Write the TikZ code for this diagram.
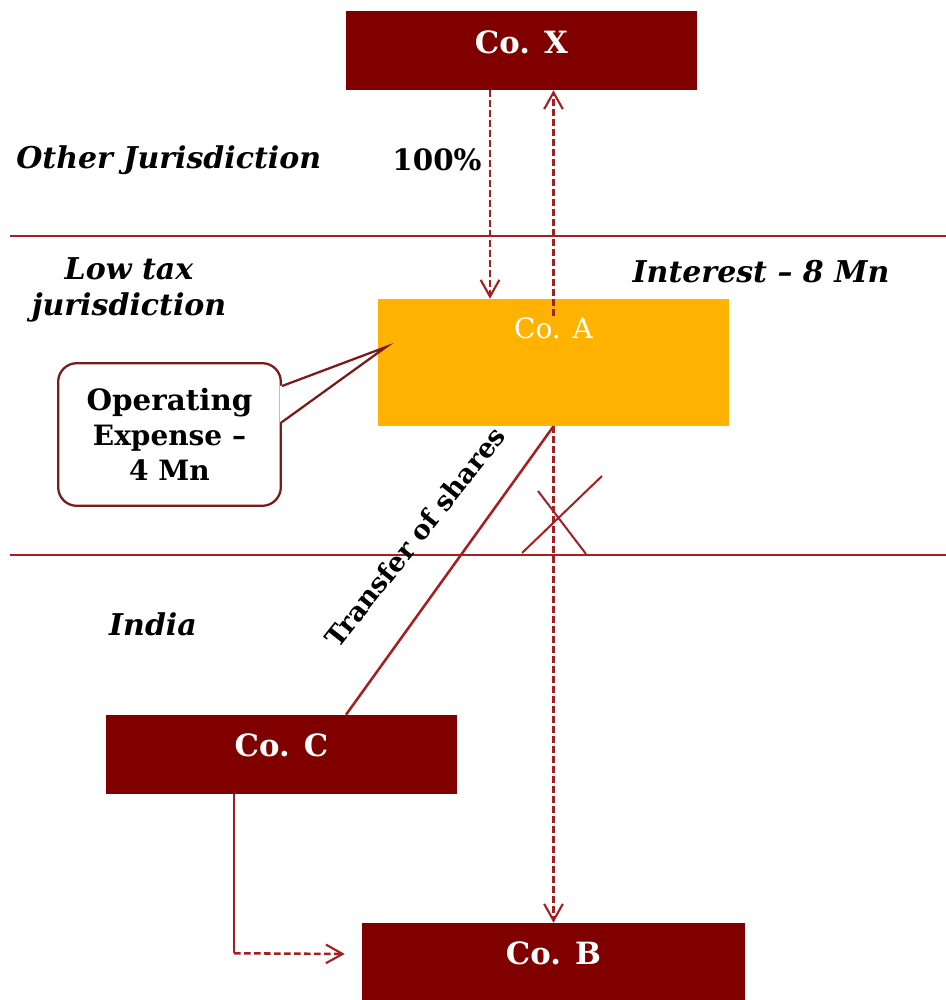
\documentclass[tikz,border=0pt]{standalone}
\usepackage{fontspec}
\setmainfont{DejaVu Serif}
\usepackage{tikz}
\usetikzlibrary{arrows.meta, positioning, calc}
\definecolor{coRed}{HTML}{800000}
\definecolor{coAmber}{HTML}{FFB300}
\definecolor{lineRed}{HTML}{A31F22}
\definecolor{calloutRed}{HTML}{7A1B1B}
\tikzset{
  company/.style={fill=coRed, text=white, font=\bfseries\fontsize{23}{27}\selectfont, minimum width=263.25pt, minimum height=59.25pt, inner sep=0pt},
  region/.style={font=\bfseries\itshape\fontsize{22.5}{27}\selectfont, align=center, inner sep=0pt},
  border/.style={lineRed, line width=2.1pt},
  link/.style={lineRed, line width=1.9pt},
  flow/.style={link, dash pattern=on 5pt off 2.5pt, -{Straight Barb[length=12.5pt, width=14pt, line width=1.6pt]}}
}
\begin{document}
\begin{tikzpicture}[x=0.75pt, y=-0.75pt]
        % Page frame
        \useasboundingbox[fill=white] (0,0) rectangle (946,1000);

        % Jurisdiction borders
        \draw[border] (10,236) -- (946,236);
        \draw[border] (10,555) -- (946,555);

        % Companies
        \node[company] (cox) at (521.5,50.5) {\raisebox{12.8pt}{Co. X}};
        \node[company, fill=coAmber, font=\fontsize{21}{25}\selectfont, minimum height=95.25pt] (coa) at (553.5,362.5) {\raisebox{51.8pt}{Co. A}};
        \node[company] (coc) at (281.5,754.5) {\raisebox{14.3pt}{Co. C}};
        \node[company, minimum width=287.25pt] (cob) at (553.5,962.5) {\raisebox{14.3pt}{Co. B}};

        % Region labels
        \node[region, anchor=west] (other) at (16,160) {Other Jurisdiction};
        \node[region] (lowtax) at (129,290) {Low tax\\jurisdiction};
        \node[region] (india) at (153,624) {India};
        \node[region] (interest) at (761,272) {Interest -- 8 Mn};
        \node[region, font=\bfseries\fontsize{22}{26}\selectfont] (own) at (437,160) {100\%};

        % Callout
        \node[draw=calloutRed, line width=1.7pt, rounded corners=14pt, fill=white, minimum width=167pt, minimum height=107pt, align=center, font=\bfseries\fontsize{21}{26}\selectfont] (opex) at (169.5,434.5) {{\fontsize{22}{26}\selectfont Operating}\\Expense --\\4 Mn};
        \coordinate (tipA) at (386,347);
        \fill[white] ($(opex.north east)+(-2,24)$) -- (tipA) -- ($(opex.north east)+(-2,60)$) -- cycle;
        \draw[calloutRed, line width=1.7pt] ($(opex.north east)+(0,24)$) -- (tipA) -- ($(opex.north east)+(0,60)$);

        % Flows
        \draw[flow] ($(cox.south)+(-31.5,0)$) -- ($(coa.north)+(-63.5,0)$);
        \draw[flow] ($(coa.north)+(0,17)$) -- ($(cox.south)+(32,0)$);
        \draw[flow] (coa.south) -- (cob.north);
        \draw[link] (coa.south) -- ($(coc.north)+(64.5,0)$);
        \node[rotate=51.5, font=\bfseries\fontsize{20}{24}\selectfont] (transfer) at (415,537) {Transfer of shares};
        \draw[link] ($(coc.south)+(-47.5,0)$) -- ++(0,159) coordinate (elbow);
        \draw[flow] (elbow) -- ($(cob.west)+(-17,-8.5)$);

        % Blocked route
        \draw[link, line width=1.5pt] (522,553) -- (602,476);
        \draw[link, line width=1.5pt] (538,491) -- (586,554);
    \end{tikzpicture}
\end{document}
